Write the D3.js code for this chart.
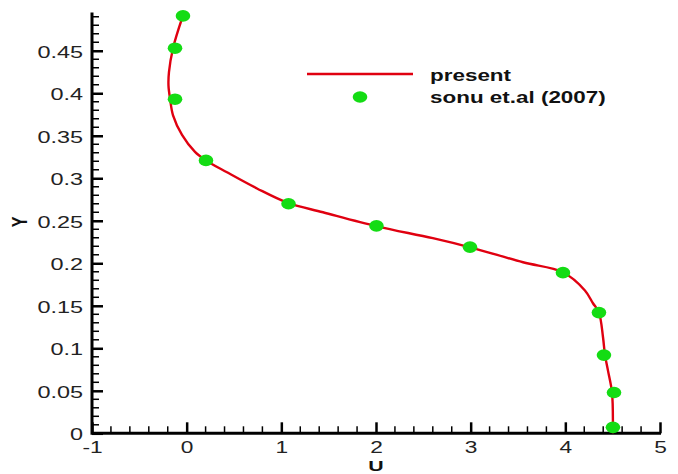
<!DOCTYPE html>
<html><head><meta charset="utf-8">
<script src="https://cdn.jsdelivr.net/npm/d3@7"></script>
<style>
body{margin:0;background:#fff;}
svg{display:block;font-family:"Liberation Sans",Arial,Helvetica,sans-serif;}
</style></head>
<body><svg id="c" width="678" height="474"></svg>
<script>
// "present" curve: U (x) and Y values
const presentU = [-0.049,-0.144,-0.187,-0.192,-0.176,-0.144,-0.049,0.088,0.204,0.426,0.743,1.070,1.44,2.01,2.60,2.993,3.553,3.975,4.207,4.292,4.355,4.398,4.419,4.45,4.493,4.503,4.503];
const presentY = [0.488,0.453,0.425,0.409,0.394,0.374,0.351,0.331,0.321,0.307,0.288,0.271,0.260,0.2435,0.2295,0.2188,0.2012,0.1894,0.168,0.153,0.142,0.113,0.092,0.074,0.048,0.007,0.0];
// sonu et.al (2007) markers
const sonuU = [-0.039,-0.123,-0.123,0.204,1.076,2.005,2.993,3.975,4.355,4.408,4.514,4.503];
const sonuY = [0.491,0.453,0.393,0.321,0.270,0.244,0.219,0.189,0.142,0.092,0.048,0.007];
const xTicks = [-1,0,1,2,3,4,5];
const yTicks = [0,0.05,0.1,0.15,0.2,0.25,0.3,0.35,0.4,0.45];
const seriesNames = ["present","sonu et.al (2007)"];
const xLabel = "U", yLabel = "Y";

const svg = d3.select("#c");
const x = d3.scaleLinear().domain([-1,5]).range([92,660]);
const y = d3.scaleLinear().domain([0,0.495]).range([433.3,12.5]);
const SX = 1.42;

// minor ticks
const xMinor = d3.range(-1,5.0001,0.2).filter(v=>Math.abs(v-Math.round(v))>1e-6);
const yMinor = d3.range(0,0.4951,0.01).filter(v=>Math.abs(v*20-Math.round(v*20))>1e-6);

const gx = svg.append("g").attr("transform",`translate(0,${y(0)})`);
gx.selectAll("line.m").data(xMinor).join("line")
  .attr("x1",d=>x(d)).attr("x2",d=>x(d)).attr("y1",0).attr("y2",-7)
  .attr("stroke","#000").attr("stroke-width",1.5);
gx.call(d3.axisBottom(x).tickValues(xTicks).tickSize(-11).tickPadding(8).tickFormat(d=>String(d)));
gx.select(".domain").attr("stroke-width",3).attr("d",`M${x(-1)},0H${x(5)+1}`);
gx.selectAll(".tick line").attr("stroke-width",2.5);
gx.selectAll(".tick text").attr("font-size",16).attr("fill","#222")
  .attr("font-family","Liberation Sans, Arial, sans-serif")
  .each(function(){const t=d3.select(this);const yy=+t.attr("y");t.attr("y",null).attr("transform",`translate(0,${yy}) scale(${SX},1)`);});

const gy = svg.append("g").attr("transform",`translate(${x(-1)},0)`);
gy.selectAll("line.m").data(yMinor).join("line")
  .attr("y1",d=>y(d)).attr("y2",d=>y(d)).attr("x1",0).attr("x2",7)
  .attr("stroke","#000").attr("stroke-width",1.5);
gy.call(d3.axisLeft(y).tickValues(yTicks).tickSize(-11).tickPadding(9).tickFormat(d=>String(+d.toFixed(2))));
gy.select(".domain").attr("stroke-width",3).attr("d",`M0,${y(0)+1.5}V${y(0.495)}`);
gy.selectAll(".tick line").attr("stroke-width",2.5);
gy.selectAll(".tick text").attr("font-size",16.5).attr("fill","#222")
  .attr("font-family","Liberation Sans, Arial, sans-serif")
  .each(function(){const t=d3.select(this);const xx=+t.attr("x");t.attr("x",null).attr("transform",`translate(${xx},1) scale(${SX},1)`);});

// axis titles
svg.append("text").attr("transform",`translate(376,470.5) scale(${SX},1)`)
  .attr("text-anchor","middle").attr("font-weight","bold").attr("font-size",15).attr("fill","#111").text(xLabel);
svg.append("text").attr("transform",`translate(27,222) scale(${SX},1) rotate(-90)`)
  .attr("text-anchor","middle").attr("font-weight","bold").attr("font-size",16).attr("fill","#111").text(yLabel);

// curve
const pts = presentU.map((u,i)=>[u,presentY[i]]);
svg.append("path").datum(pts)
  .attr("d",d3.line().x(d=>x(d[0])).y(d=>y(d[1])).curve(d3.curveCatmullRom.alpha(0.5)))
  .attr("fill","none").attr("stroke","#e00010").attr("stroke-width",2.4);

// markers
svg.selectAll("ellipse.s").data(sonuU.map((u,i)=>[u,sonuY[i]])).join("ellipse")
  .attr("cx",d=>x(d[0])).attr("cy",d=>y(d[1])).attr("rx",7.3).attr("ry",5.8)
  .attr("fill","#14dc14");

// legend
const lg = svg.append("g");
lg.append("line").attr("x1",307).attr("x2",413).attr("y1",74).attr("y2",74)
  .attr("stroke","#e00010").attr("stroke-width",2.4);
lg.append("ellipse").attr("cx",360).attr("cy",97).attr("rx",7.3).attr("ry",5.8).attr("fill","#14dc14");
lg.selectAll("text").data(seriesNames).join("text")
  .attr("transform",(d,i)=>`translate(430,${i?103:81}) scale(1.36,1)`)
  .attr("font-weight","bold").attr("font-size",16.5).attr("fill","#111").text(d=>d);
</script></body></html>
